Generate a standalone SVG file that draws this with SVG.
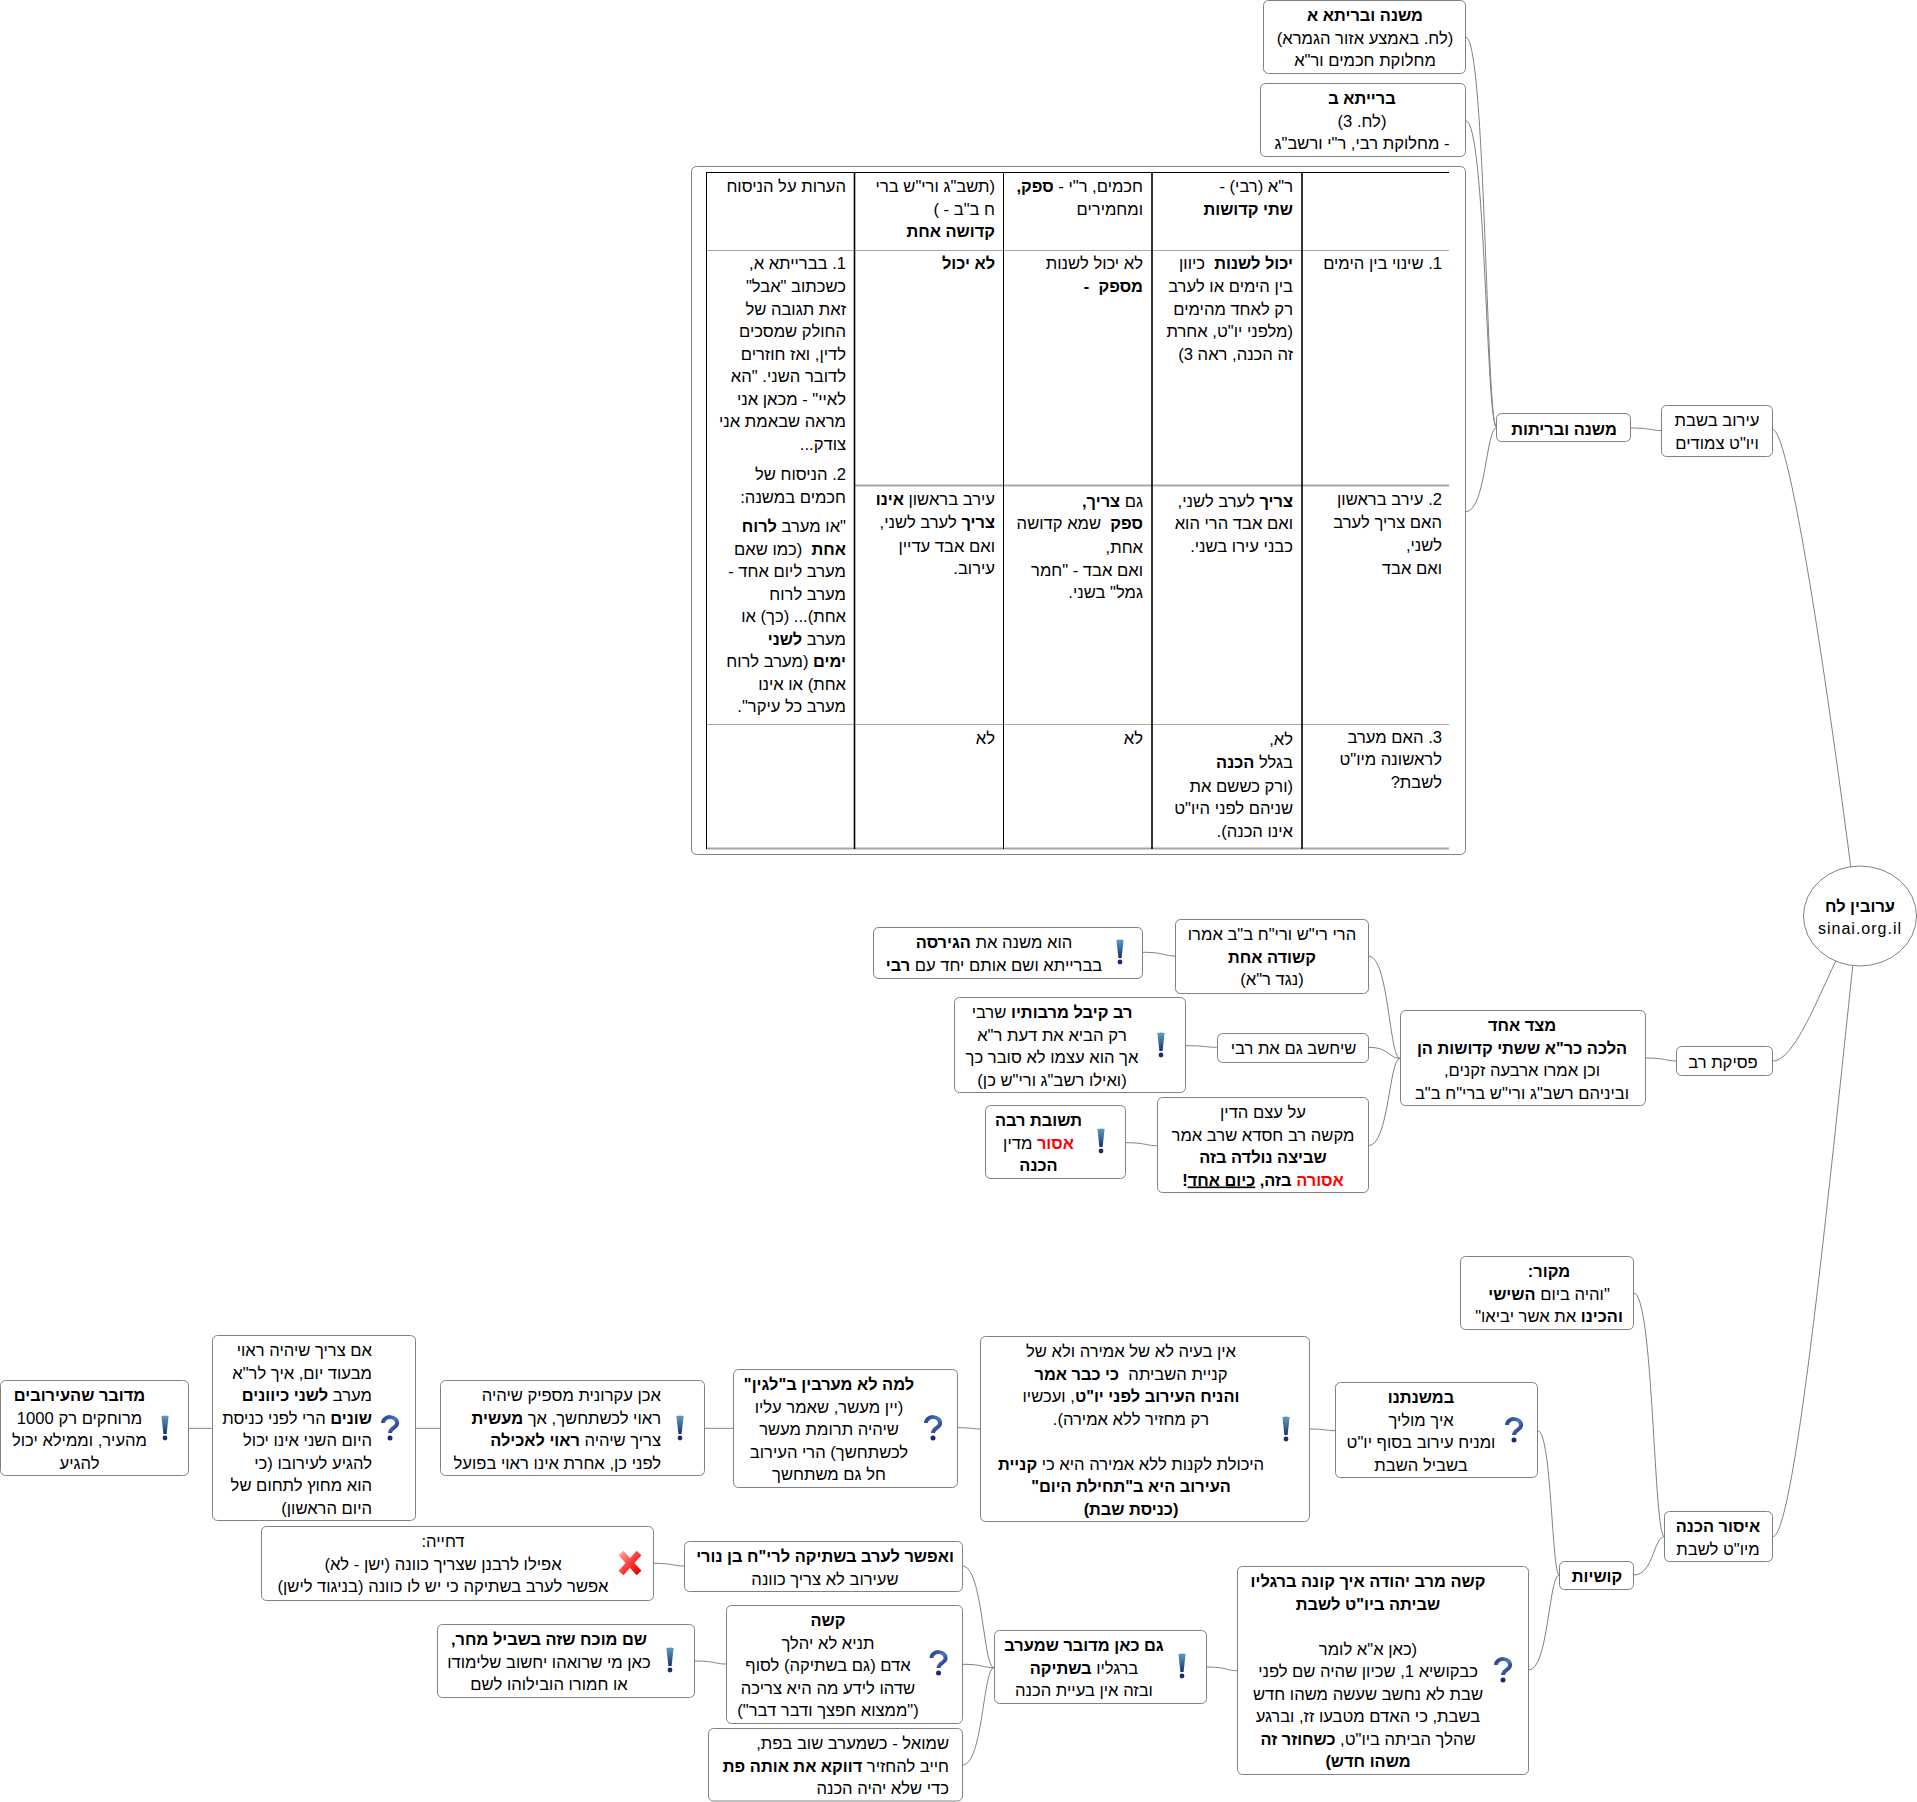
<svg xmlns="http://www.w3.org/2000/svg" width="1917" height="1802" viewBox="0 0 1917 1802">
<style>
text{font-family:"Liberation Sans",Arial,sans-serif;font-size:16.6px;fill:#000;direction:rtl;unicode-bidi:embed}
.c{text-anchor:middle}
.r{text-anchor:start}
.b{font-weight:bold;font-size:16.4px}
.red{fill:#f00}
.u{text-decoration:underline}
.n{fill:#fff;stroke:#808080;stroke-width:1}
.cn{fill:none;stroke:#808080;stroke-width:1}
.v{stroke:#000;stroke-width:1.6}
.h{stroke:#a6a6a6;stroke-width:1}
.lat{direction:ltr;font-size:16px;letter-spacing:1px}
</style>
<defs>
<linearGradient id="gx" x1="0" y1="0" x2="0" y2="1"><stop offset="0" stop-color="#5f9fbb"/><stop offset="0.5" stop-color="#3a6a9a"/><stop offset="1" stop-color="#1b2c6c"/></linearGradient>
<linearGradient id="gq" x1="0" y1="0" x2="1" y2="1"><stop offset="0" stop-color="#2a3f90"/><stop offset="0.5" stop-color="#4a78c0"/><stop offset="1" stop-color="#16246a"/></linearGradient>
<linearGradient id="gr" x1="0" y1="0" x2="1" y2="1"><stop offset="0" stop-color="#ffa0a0"/><stop offset="0.5" stop-color="#ff3a3a"/><stop offset="1" stop-color="#e80000"/></linearGradient>
<g id="ex"><path d="M-3.6-12Q0-13 3.6-12L1.6 6H-1.6Z" fill="url(#gx)"/><circle cx="0" cy="10" r="2.4" fill="#1b2c6c"/></g>
<g id="qu"><path d="M-7-5C-7-13 8-13 7-4C6 0 0 0 0 5" fill="none" stroke="url(#gq)" stroke-width="4"/><circle cx="0" cy="10" r="2.5" fill="#1b2c6c"/></g>
<g id="xx"><path d="M-9-10L9 10M9-10L-9 10" fill="none" stroke="url(#gr)" stroke-width="6.5"/></g>
</defs>
<rect width="1917" height="1802" fill="#fff"/>
<g id="connectors">
<path class="cn" d="M1772.7 429.6C1790 429.6 1830 700 1857 916"/>
<path class="cn" d="M1772.7 1061C1800 1061 1830 960 1860 916"/>
<path class="cn" d="M1772.7 1536.7C1795 1536.7 1830 1180 1858 916"/>
<path class="cn" d="M1630.7 428C1650.6 428 1650.6 430.5 1661.3 430.5"/>
<path class="cn" d="M1465.7 37.2C1485.9 37.2 1485.9 427.6 1496.7 427.6"/>
<path class="cn" d="M1465.7 120.7C1485.9 120.7 1485.9 427.6 1496.7 427.6"/>
<path class="cn" d="M1465.7 511.7C1485.9 511.7 1485.9 427.6 1496.7 427.6"/>
<path class="cn" d="M1645.6 1058C1665.8 1058 1665.8 1061 1676.6 1061"/>
<path class="cn" d="M1368.4 956C1389 956 1389 1058.3 1400 1058.3"/>
<path class="cn" d="M1368.4 1047.3C1389 1047.3 1389 1058.3 1400 1058.3"/>
<path class="cn" d="M1368.4 1145.7C1389 1145.7 1389 1058.3 1400 1058.3"/>
<path class="cn" d="M1143 952.3C1164 952.3 1164 956 1175 956"/>
<path class="cn" d="M1185.7 1045.7C1206 1045.7 1206 1047.3 1216.7 1047.3"/>
<path class="cn" d="M1125.7 1142.7C1146 1142.7 1146 1145.7 1156.7 1145.7"/>
<path class="cn" d="M188.2 1428.3H211.7M415.5 1428.3H440.3M704.3 1428.3H733"/>
<path class="cn" d="M957.5 1427.7C972.5 1427.7 972.5 1429 980.6 1429"/>
<path class="cn" d="M1309.6 1429C1326 1429 1326 1430.7 1335 1430.7"/>
<path class="cn" d="M1537.7 1430.7C1551.7 1430.7 1551.7 1575 1559.3 1575"/>
<path class="cn" d="M1528.7 1670C1548.6 1670 1548.6 1575 1559.3 1575"/>
<path class="cn" d="M1633.7 1293C1653.6 1293 1653.6 1536.7 1664.3 1536.7"/>
<path class="cn" d="M1633.7 1575C1653.6 1575 1653.6 1536.7 1664.3 1536.7"/>
<path class="cn" d="M962.4 1566C983 1566 983 1667.7 994 1667.7"/>
<path class="cn" d="M962.4 1664.3C983 1664.3 983 1667.7 994 1667.7"/>
<path class="cn" d="M962.4 1765C983 1765 983 1667.7 994 1667.7"/>
<path class="cn" d="M1206.5 1667C1226.5 1667 1226.5 1670.7 1237.3 1670.7"/>
<path class="cn" d="M653.4 1563.3C673.3 1563.3 673.3 1566 684 1566"/>
<path class="cn" d="M694.2 1661C714.9 1661 714.9 1664 726 1664"/>
</g>
<g id="root"><ellipse class="n" cx="1860" cy="916" rx="56.5" ry="50"/>
<text class="c b" x="1860" y="912">ערובין לח</text><text class="c lat" x="1860" y="934">sinai.org.il</text></g>
<g id="n-eruv"><rect class="n" x="1661.5" y="405.5" width="111" height="51" rx="5"/>
<text class="c" x="1717" y="426">עירוב בשבת</text><text class="c" x="1717" y="448.5">ויו"ט צמודים</text></g>
<g id="n-mishna"><rect class="n" x="1496.5" y="413.5" width="134" height="28" rx="5"/>
<text class="c b" x="1564" y="434.5">משנה ובריתות</text></g>
<g id="n-a"><rect class="n" x="1263.5" y="0.5" width="202" height="73" rx="5"/>
<text class="c b" x="1365" y="21">משנה ובריתא א</text><text class="c" x="1365" y="43.5">(לח. באמצע אזור הגמרא)</text><text class="c" x="1365" y="66">מחלוקת חכמים ור"א</text></g>
<g id="n-b"><rect class="n" x="1260.5" y="83.5" width="205" height="73" rx="5"/>
<text class="c b" x="1362" y="104">ברייתא ב</text><text class="c" x="1362" y="126.5">(לח. 3)</text><text class="c" x="1362" y="149">- מחלוקת רבי, ר"י ורשב"ג</text></g>
<g id="n-table"><rect class="n" x="691.5" y="166.5" width="774" height="688" rx="5"/>
<path d="M706.5 172.5H1449" stroke="#000" stroke-width="1"/>
<path class="h" d="M706.5 250.5H1449M706.5 724.5H1449"/>
<path d="M854 485.5H1449" stroke="#a6a6a6" stroke-width="2"/>
<path d="M706.5 848.5H1449" stroke="#a6a6a6" stroke-width="2"/>
<path d="M706.5 172V849M1003.5 172V849" stroke="#000" stroke-width="1"/>
<path class="v" d="M854.5 172V849M1152 172V849M1302 172V849"/>
<text class="r" x="1293" y="192">ר"א (רבי) -</text><text class="r b" x="1293" y="214.5">שתי קדושות</text>
<text class="r" x="1143" y="192">חכמים, ר"י - <tspan class="b">ספק,</tspan></text><text class="r" x="1143" y="214.5">ומחמירים</text>
<text class="r" x="995" y="192">(תשב"ג ורי"ש ברי</text><text class="r" x="995" y="214.5">ח ב"ב - )</text><text class="r b" x="995" y="237">קדושה אחת</text>
<text class="r" x="846" y="192">הערות על הניסוח</text>
<text class="r" x="1442" y="269">1. שינוי בין הימים</text>
<text class="r" x="1293" y="269"><tspan class="b">יכול לשנות</tspan>&#160; כיוון</text><text class="r" x="1293" y="292">בין הימים או לערב</text><text class="r" x="1293" y="314.5">רק לאחד מהימים</text><text class="r" x="1293" y="337">(מלפני יו"ט, אחרת</text><text class="r" x="1293" y="360">זה הכנה, ראה 3)</text>
<text class="r" x="1143" y="269">לא יכול לשנות</text><text class="r b" x="1143" y="292">מספק&#160; -</text>
<text class="r b" x="995" y="269">לא יכול</text>
<text class="r" x="846" y="269">1. בברייתא א,</text><text class="r" x="846" y="292">כשכתוב "אבל"</text><text class="r" x="846" y="314.5">זאת תגובה של</text><text class="r" x="846" y="337">החולק שמסכים</text><text class="r" x="846" y="360">לדין, ואז חוזרים</text><text class="r" x="846" y="382">לדובר השני. "הא</text><text class="r" x="846" y="404.5">לאיי" - מכאן אני</text><text class="r" x="846" y="427">מראה שבאמת אני</text><text class="r" x="846" y="449.5">צודק...</text>
<text class="r" x="846" y="480">2. הניסוח של</text><text class="r" x="846" y="502.5">חכמים במשנה:</text>
<text class="r" x="846" y="532">"או מערב <tspan class="b">לרוח</tspan></text><text class="r" x="846" y="555"><tspan class="b">אחת</tspan>&#160; (כמו שאם</text><text class="r" x="846" y="577">מערב ליום אחד -</text><text class="r" x="846" y="600">מערב לרוח</text><text class="r" x="846" y="622">אחת)... (כך) או</text><text class="r" x="846" y="645">מערב <tspan class="b">לשני</tspan></text><text class="r" x="846" y="667"><tspan class="b">ימים</tspan> (מערב לרוח</text><text class="r" x="846" y="690">אחת) או אינו</text><text class="r" x="846" y="712">מערב כל עיקר".</text>
<text class="r" x="1442" y="505">2. עירב בראשון</text><text class="r" x="1442" y="528">האם צריך לערב</text><text class="r" x="1442" y="551">לשני,</text><text class="r" x="1442" y="574">ואם אבד</text>
<text class="r" x="1293" y="507"><tspan class="b">צריך</tspan> לערב לשני,</text><text class="r" x="1293" y="529">ואם אבד הרי הוא</text><text class="r" x="1293" y="552">כבני עירו בשני.</text>
<text class="r" x="1143" y="507">גם <tspan class="b">צריך,</tspan></text><text class="r" x="1143" y="529"><tspan class="b">ספק</tspan>&#160; שמא קדושה</text><text class="r" x="1143" y="553">אחת,</text><text class="r" x="1143" y="576">ואם אבד - "חמר</text><text class="r" x="1143" y="598">גמל" בשני.</text>
<text class="r" x="995" y="505">עירב בראשון <tspan class="b">אינו</tspan></text><text class="r" x="995" y="528"><tspan class="b">צריך</tspan> לערב לשני,</text><text class="r" x="995" y="552">ואם אבד עדיין</text><text class="r" x="995" y="574">עירוב.</text>
<text class="r" x="1442" y="743">3. האם מערב</text><text class="r" x="1442" y="765">לראשונה מיו"ט</text><text class="r" x="1442" y="788">לשבת?</text>
<text class="r" x="1293" y="745">לא,</text><text class="r" x="1293" y="768">בגלל <tspan class="b">הכנה</tspan></text><text class="r" x="1293" y="792">(ורק כששם את</text><text class="r" x="1293" y="814">שניהם לפני היו"ט</text><text class="r" x="1293" y="837">אינו הכנה).</text>
<text class="r" x="1143" y="744">לא</text><text class="r" x="995" y="744">לא</text></g>
<g id="n-psika"><rect class="n" x="1676.5" y="1046.5" width="96" height="29" rx="5"/><text class="c" x="1723" y="1067.5">פסיקת רב</text></g>
<g id="n-tzad"><rect class="n" x="1400.5" y="1010.5" width="245" height="95" rx="5"/>
<text class="c b" x="1522" y="1031">מצד אחד</text><text class="c b" x="1522" y="1053.5">הלכה כר"א ששתי קדושות הן</text><text class="c" x="1522" y="1076">וכן אמרו ארבעה זקנים,</text><text class="c" x="1522" y="1098.5">וביניהם רשב"ג ורי"ש ברי"ח ב"ב</text></g>
<g id="n-harei"><rect class="n" x="1175.5" y="919.5" width="193" height="74" rx="5"/>
<text class="c" x="1272" y="940">הרי רי"ש ורי"ח ב"ב אמרו</text><text class="c b" x="1272" y="962.5">קשודה אחת</text><text class="c" x="1272" y="985">(נגד ר"א)</text></g>
<g id="n-hu"><rect class="n" x="873.5" y="927.5" width="269" height="51" rx="5"/><use href="#ex" transform="translate(1120 952)"/>
<text class="c" x="994" y="948">הוא משנה את <tspan class="b">הגירסה</tspan></text><text class="c" x="994" y="970.5">בברייתא ושם אותם יחד עם <tspan class="b">רבי</tspan></text></g>
<g id="n-yichashev"><rect class="n" x="1217.5" y="1033.5" width="151" height="29" rx="5"/><text class="c" x="1293.5" y="1054">שיחשב גם את רבי</text></g>
<g id="n-kibel"><rect class="n" x="954.5" y="997.5" width="231" height="95" rx="5"/><use href="#ex" transform="translate(1161 1045)"/>
<text class="c" x="1052" y="1018"><tspan class="b">רב קיבל מרבותיו</tspan> שרבי</text><text class="c" x="1052" y="1040.5">רק הביא את דעת ר"א</text><text class="c" x="1052" y="1063">אך הוא עצמו לא סובר כך</text><text class="c" x="1052" y="1085.5">(ואילו רשב"ג ורי"ש כן)</text></g>
<g id="n-etzem"><rect class="n" x="1157.5" y="1097.5" width="211" height="95" rx="5"/>
<text class="c" x="1263" y="1118">על עצם הדין</text><text class="c" x="1263" y="1140.5">מקשה רב חסדא שרב אמר</text><text class="c b" x="1263" y="1163">שביצה נולדה בזה</text><text class="c b" x="1263" y="1185.5"><tspan class="red">אסורה</tspan> בזה, <tspan class="u">כיום אחד</tspan>!</text></g>
<g id="n-teshuva"><rect class="n" x="985.5" y="1105.5" width="140" height="73" rx="5"/><use href="#ex" transform="translate(1101 1141)"/>
<text class="c b" x="1038.5" y="1126">תשובת רבה</text><text class="c" x="1038.5" y="1148.5"><tspan class="b red">אסור</tspan> מדין</text><text class="c b" x="1038.5" y="1171">הכנה</text></g>
<g id="n-makor"><rect class="n" x="1460.5" y="1256.5" width="173" height="73" rx="5"/>
<text class="c b" x="1549" y="1277">מקור:</text><text class="c" x="1549" y="1299.5">"והיה ביום <tspan class="b">השישי</tspan></text><text class="c" x="1549" y="1322"><tspan class="b">והכינו</tspan> את אשר יביאו"</text></g>
<g id="n-issur"><rect class="n" x="1664.5" y="1511.5" width="108" height="50" rx="5"/>
<text class="c b" x="1718" y="1532">איסור הכנה</text><text class="c" x="1718" y="1554.5">מיו"ט לשבת</text></g>
<g id="n-kushiot"><rect class="n" x="1559.5" y="1561.5" width="74" height="28" rx="5"/><text class="c b" x="1597" y="1582">קושיות</text></g>
<g id="n-bemishnatenu"><rect class="n" x="1335.5" y="1382.5" width="202" height="95" rx="5"/><use href="#qu" transform="translate(1514 1430)"/>
<text class="c b" x="1421" y="1403">במשנתנו</text><text class="c" x="1421" y="1425.5">איך מוליך</text><text class="c" x="1421" y="1448">ומניח עירוב בסוף יו"ט</text><text class="c" x="1421" y="1470.5">בשביל השבת</text></g>
<g id="n-ein"><rect class="n" x="980.5" y="1336.5" width="329" height="185" rx="5"/><use href="#ex" transform="translate(1286 1429)"/>
<text class="c" x="1131" y="1357">אין בעיה לא של אמירה ולא של</text><text class="c" x="1131" y="1379.5">קניית השביתה&#160; <tspan class="b">כי כבר אמר</tspan></text><text class="c" x="1131" y="1402"><tspan class="b">והניח העירוב לפני יו"ט</tspan>, ועכשיו</text><text class="c" x="1131" y="1424.5">רק מחזיר ללא אמירה).</text><text class="c" x="1131" y="1469.5">היכולת לקנות ללא אמירה היא כי <tspan class="b">קניית</tspan></text><text class="c b" x="1131" y="1492">העירוב היא ב"תחילת היום"</text><text class="c b" x="1131" y="1514.5">(כניסת שבת)</text></g>
<g id="n-lama"><rect class="n" x="733.5" y="1369.5" width="224" height="118" rx="5"/><use href="#qu" transform="translate(933 1428)"/>
<text class="c b" x="829" y="1390">למה לא מערבין ב"לגין"</text><text class="c" x="829" y="1412.5">(יין מעשר, שאמר עליו</text><text class="c" x="829" y="1435">שיהיה תרומת מעשר</text><text class="c" x="829" y="1457.5">לכשתחשך) הרי העירוב</text><text class="c" x="829" y="1480">חל גם משתחשך</text></g>
<g id="n-achen"><rect class="n" x="440.5" y="1380.5" width="264" height="95" rx="5"/><use href="#ex" transform="translate(680 1428)"/>
<text class="r" x="661" y="1401">אכן עקרונית מספיק שיהיה</text><text class="r" x="661" y="1423.5">ראוי לכשתחשך, אך <tspan class="b">מעשית</tspan></text><text class="r" x="661" y="1446">צריך שיהיה <tspan class="b">ראוי לאכילה</tspan></text><text class="r" x="661" y="1468.5">לפני כן, אחרת אינו ראוי בפועל</text></g>
<g id="n-im"><rect class="n" x="212.5" y="1335.5" width="203" height="185" rx="5"/><use href="#qu" transform="translate(390 1428)"/>
<text class="r" x="372" y="1356">אם צריך שיהיה ראוי</text><text class="r" x="372" y="1378.5">מבעוד יום, איך לר"א</text><text class="r" x="372" y="1401">מערב <tspan class="b">לשני כיוונים</tspan></text><text class="r" x="372" y="1423.5"><tspan class="b">שונים</tspan> הרי לפני כניסת</text><text class="r" x="372" y="1446">היום השני אינו יכול</text><text class="r" x="372" y="1468.5">להגיע לעירובו (כי</text><text class="r" x="372" y="1491">הוא מחוץ לתחום של</text><text class="r" x="372" y="1513.5">היום הראשון)</text></g>
<g id="n-medubar"><rect class="n" x="0.5" y="1380.5" width="188" height="95" rx="5"/><use href="#ex" transform="translate(165 1428)"/>
<text class="c b" x="79.5" y="1401">מדובר שהעירובים</text><text class="c" x="79.5" y="1423.5">מרוחקים רק 1000</text><text class="c" x="79.5" y="1446">מהעיר, וממילא יכול</text><text class="c" x="79.5" y="1468.5">להגיע</text></g>
<g id="n-kashe-rav"><rect class="n" x="1237.5" y="1566.5" width="291" height="208" rx="5"/><use href="#qu" transform="translate(1503 1670)"/>
<text class="c b" x="1368" y="1587">קשה מרב יהודה איך קונה ברגליו</text><text class="c b" x="1368" y="1609.5">שביתה ביו"ט לשבת</text><text class="c" x="1368" y="1654.5">(כאן א"א לומר</text><text class="c" x="1368" y="1677">כבקושיא 1, שכיון שהיה שם לפני</text><text class="c" x="1368" y="1699.5">שבת לא נחשב שעשה משהו חדש</text><text class="c" x="1368" y="1722">בשבת, כי האדם מטבעו זז, וברגע</text><text class="c" x="1368" y="1744.5">שהלך הביתה ביו"ט, <tspan class="b">כשחוזר זה</tspan></text><text class="c b" x="1368" y="1767">משהו חדש)</text></g>
<g id="n-gam"><rect class="n" x="994.5" y="1630.5" width="212" height="73" rx="5"/><use href="#ex" transform="translate(1182 1666)"/>
<text class="c b" x="1084" y="1651">גם כאן מדובר שמערב</text><text class="c" x="1084" y="1673.5">ברגליו <tspan class="b">בשתיקה</tspan></text><text class="c" x="1084" y="1696">ובזה אין בעיית הכנה</text></g>
<g id="n-efshar"><rect class="n" x="684.5" y="1541.5" width="278" height="50" rx="5"/>
<text class="c b" x="825" y="1562">ואפשר לערב בשתיקה לרי"ח בן נורי</text><text class="c" x="825" y="1584.5">שעירוב לא צריך כוונה</text></g>
<g id="n-dchiya"><rect class="n" x="261.5" y="1526.5" width="392" height="74" rx="5"/><use href="#xx" transform="translate(630 1563)"/>
<text class="c" x="443" y="1547">דחייה:</text><text class="c" x="443" y="1569.5">אפילו לרבנן שצריך כוונה (ישן - לא)</text><text class="c" x="443" y="1592">אפשר לערב בשתיקה כי יש לו כוונה (בניגוד לישן)</text></g>
<g id="n-kashe"><rect class="n" x="726.5" y="1605.5" width="236" height="118" rx="5"/><use href="#qu" transform="translate(938.5 1663)"/>
<text class="c b" x="828" y="1626">קשה</text><text class="c" x="828" y="1648.5">תניא לא יהלך</text><text class="c" x="828" y="1671">אדם (גם בשתיקה) לסוף</text><text class="c" x="828" y="1693.5">שדהו לידע מה היא צריכה</text><text class="c" x="828" y="1716">("ממצוא חפצך ודבר דבר")</text></g>
<g id="n-sham"><rect class="n" x="437.5" y="1624.5" width="257" height="73" rx="5"/><use href="#ex" transform="translate(670 1660)"/>
<text class="c b" x="549" y="1645">שם מוכח שזה בשביל מחר,</text><text class="c" x="549" y="1667.5">כאן מי שרואהו יחשוב שלימודו</text><text class="c" x="549" y="1690">או חמורו הובילוהו לשם</text></g>
<g id="n-shmuel"><rect class="n" x="708.5" y="1728.5" width="254" height="72.5" rx="5"/>
<text class="r" x="949" y="1749">שמואל - כשמערב שוב בפת,</text><text class="r" x="949" y="1771.5">חייב להחזיר <tspan class="b">דווקא את אותה פת</tspan></text><text class="r" x="949" y="1794">כדי שלא יהיה הכנה</text></g>
</svg>
